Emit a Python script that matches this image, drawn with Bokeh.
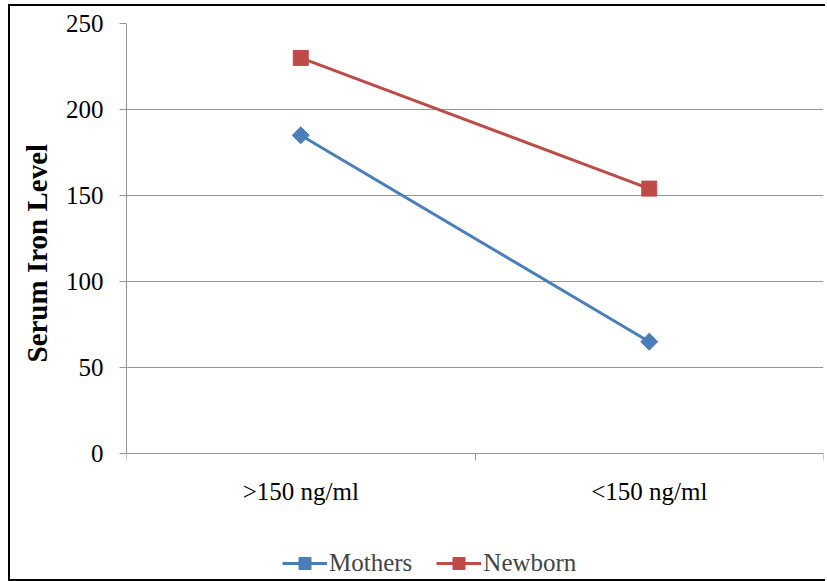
import numpy as np
from bokeh.plotting import figure
from bokeh.models import FixedTicker, Range1d, Legend, LegendItem, LinearAxis, Title
from bokeh.embed import file_html
from bokeh.resources import INLINE

categories = [">150 ng/ml", "<150 ng/ml"]
mothers = [185, 65]
newborn = [230, 154]
y_ticks = [0, 50, 100, 150, 200, 250]
y_title = "Serum Iron Level"

x = [i + 0.5 for i in range(len(categories))]

FONT = "Liberation Serif"
GRAY = "#969696"

# layout (pixels inside the canvas)
H = 577
TOP, BOTTOM_PAD = 17, 4
ZERO_FROM_TOP = 447          # y=0 line, measured from canvas top
frame_h = H - TOP - BOTTOM_PAD
k = (ZERO_FROM_TOP - TOP) / 250.0
y_lo = -(frame_h - (ZERO_FROM_TOP - TOP)) / k

p = figure(width=817, height=H, output_backend="svg", toolbar_location=None,
           x_range=Range1d(0, len(categories)), y_range=Range1d(y_lo, 250),
           x_axis_location=None,
           min_border_left=115, min_border_right=4, min_border_top=TOP,
           min_border_bottom=BOTTOM_PAD)
p.styles = {"border": "2px solid black", "border-right": "none",
            "margin-left": "8px", "margin-top": "4px", "box-sizing": "border-box"}
p.outline_line_color = None
p.background_fill_color = "white"

xaxis = LinearAxis(fixed_location=0, bounds=(0, len(categories)))
p.add_layout(xaxis, "below")
xaxis.ticker = FixedTicker(ticks=x, minor_ticks=list(range(len(categories) + 1)))
xaxis.major_label_overrides = {xx: c for xx, c in zip(x, categories)}
xaxis.major_tick_out = 0
xaxis.major_tick_in = 0
xaxis.minor_tick_out = 7
xaxis.minor_tick_in = 0
xaxis.minor_tick_line_color = GRAY
xaxis.axis_line_color = GRAY
xaxis.major_label_standoff = 17
xaxis.major_label_text_font = FONT
xaxis.major_label_text_font_size = "25px"
xaxis.major_label_text_color = "black"

p.yaxis.bounds = (0, 250)
p.yaxis.ticker = FixedTicker(ticks=y_ticks)
p.yaxis.minor_tick_line_color = None
p.yaxis.major_tick_out = 7
p.yaxis.major_tick_in = 0
p.yaxis.major_tick_line_color = GRAY
p.yaxis.axis_line_color = GRAY
p.yaxis.major_label_standoff = 16
p.yaxis.major_label_text_font = FONT
p.yaxis.major_label_text_font_size = "25px"
p.yaxis.major_label_text_color = "black"

ytitle = Title(text=y_title, align="left", offset=217, vertical_align="middle",
               standoff=18, text_font=FONT, text_font_style="bold",
               text_font_size="29px", text_color="black")
p.add_layout(ytitle, "left")

p.xgrid.grid_line_color = None
p.ygrid.ticker = FixedTicker(ticks=y_ticks)
p.ygrid.grid_line_color = GRAY
p.ygrid.grid_line_width = 1

l1 = p.line(x, mothers, line_color="#4A7EBB", line_width=3)
m1 = p.scatter(x, mothers, marker="square", angle=np.pi / 4, size=12,
               fill_color="#4A7EBB", line_color="#4A7EBB")
l2 = p.line(x, newborn, line_color="#BE4B48", line_width=3)
m2 = p.scatter(x, newborn, marker="square", size=15, fill_color="#BE4B48", line_color="#BE4B48")

legend = Legend(items=[LegendItem(label="Mothers", renderers=[l1, m1]),
                       LegendItem(label="Newborn", renderers=[l2, m2])],
                orientation="horizontal", location=(156, 1),
                label_text_font=FONT, label_text_font_size="25px",
                border_line_color=None, background_fill_alpha=0,
                glyph_width=45, glyph_height=30, label_standoff=2, spacing=24,
                padding=2, margin=0)
p.add_layout(legend, "center")

open("out.html", "w").write(file_html(p, INLINE))
